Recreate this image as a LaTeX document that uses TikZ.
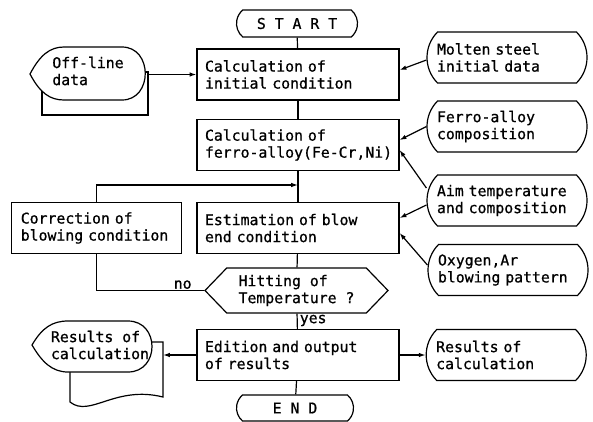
\documentclass[tikz,border=0pt]{standalone}
\usepackage{fontspec}
\setmonofont{DejaVu Sans Mono}[FakeBold=0.8]
\usetikzlibrary{positioning,arrows.meta,shapes.misc,shapes.symbols}

\begin{document}
\begin{tikzpicture}[x=1pt,y=-1pt,font=\ttfamily\fontsize{14.8}{17}\selectfont,
  >={Latex[length=2.4mm,width=1.6mm]},line width=1.2pt,
  proc/.style={draw,minimum width=202pt,minimum height=51pt,align=left,
               text width=186pt,inner xsep=8pt,inner ysep=0pt},
  term/.style={draw,rounded rectangle,rounded rectangle arc length=100,
               minimum width=121pt,minimum height=27pt,inner sep=0pt},
  ext/.style={draw,rounded rectangle,rounded rectangle arc length=90,
              minimum width=160pt,minimum height=51pt,align=left,
              text width=140pt,inner sep=0pt}]
 \useasboundingbox (0,0) rectangle (593,421);
 % main column
 \node[term] (start) at (297,23.5) {S T A R T};
 \node[proc] (init) at (298,74.5) {Calculation of\\initial condition};
 \node[proc] (ferro) at (298,145) {Calculation of\\ferro-alloy(Fe-Cr,Ni)};
 \node[proc] (est) at (298,228) {Estimation of blow\\end condition};
 \node[proc,minimum width=170pt,text width=152pt,left=14pt of est] (corr)
   {Correction of\\blowing condition};
 \node[draw,signal,signal to=west and east,signal pointer angle=92,
       minimum width=183pt,minimum height=45pt,align=left,inner sep=0pt]
   (hit) at (296.5,290.5) {Hitting of\\Temperature ?};
 \node[proc] (edit) at (298,355) {Edition and output\\of results};
 \node[term,minimum width=117pt,minimum height=26pt] (end) at (295,408) {E N D};
 % data on the right
 \node[ext] (molten) at (507,57.5) {Molten steel\\initial data};
 \node[ext] (alloy) at (507,126.5) {Ferro-alloy\\composition};
 \node[ext] (aim) at (507,200.5) {Aim temperature\\and composition};
 \node[ext] (oxy) at (508,270) {Oxygen,Ar\\blowing pattern};
 \node[ext,right=26pt of edit] (res) {Results of\\calculation};
 % off-line data (display on a card)
 \draw[fill=white] (42,72) rectangle (148,115);
 \draw[fill=white] (30,74) .. controls (40,55) and (50,47) .. (64,47) -- (122,47)
   .. controls (153,47) and (153,100) .. (122,100) -- (64,100)
   .. controls (50,100) and (40,93) .. cycle;
 \node[align=left] (offline) at (88,71) {Off-line\\data};
 \coordinate (offout) at (148,74.5);
 % results shown and printed
 \draw[fill=white] (70,342) -- (163,342) -- (163,397)
   .. controls (115,385) and (90,418) .. (70,402) -- cycle;
 \draw[fill=white] (32,345) .. controls (42,328) and (52,321) .. (68,321) -- (128,321)
   .. controls (160,321) and (160,372) .. (128,372) -- (68,372)
   .. controls (52,372) and (42,362) .. cycle;
 \node[align=left] (printout) at (100,345) {Results of\\calculation};
 \coordinate (printin) at (163,355);
 \coordinate (join) at (298,185);
 % flow
 \draw (start)--(init); \draw (init)--(ferro); \draw (ferro)--(est);
 \draw[->] (corr.north) |- (join);
 \draw (est)--(hit);
 \draw (hit.west)--node[above,pos=0.2,inner sep=1pt]{no}(corr.south |- hit.west)--(corr.south);
 \draw (hit)--node[right,pos=0.45,inner sep=2pt]{yes}(edit);
 \draw (edit)--(end);
 \draw[->] (offout)--(offout -| init.west);
 \draw[->] ([yshift=-2.5pt]molten.west)--([yshift=4.5pt]init.east);
 \draw[->] (alloy.west)--([yshift=5pt]ferro.east);
 \draw[->] ([yshift=12.5pt]aim.west)--([yshift=-5pt]ferro.east);
 \draw[->] ([yshift=-4.5pt]aim.west)--([yshift=10pt]est.east);
 \draw[->] ([yshift=5pt]oxy.west)--([yshift=-5pt]est.east);
 \draw[->] (edit)--(res);
 \draw[->] (edit.west)--(printin);
\end{tikzpicture}
\end{document}
